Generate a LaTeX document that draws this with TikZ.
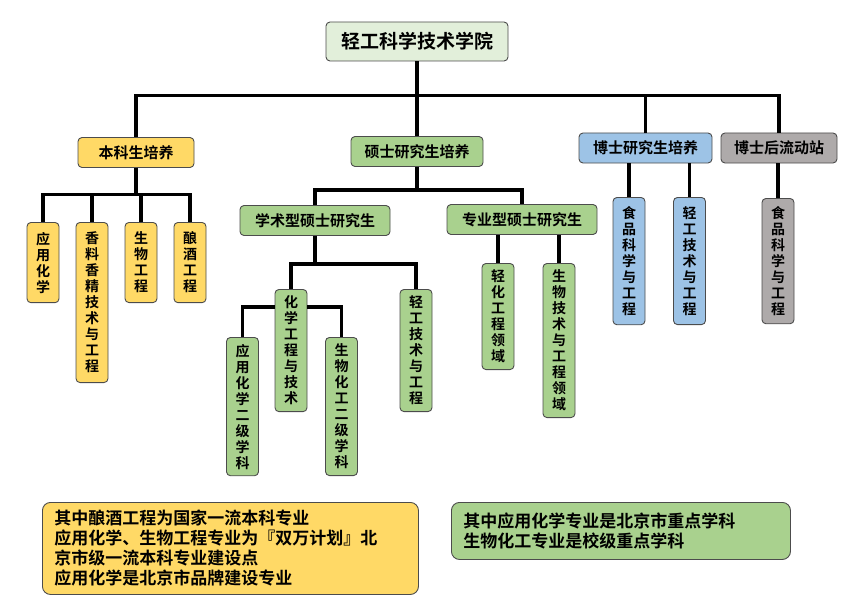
\documentclass[tikz,border=0pt]{standalone}
\usepackage{fontspec}
\setmainfont{Noto Sans CJK SC}[BoldFont={Noto Sans CJK SC Bold}]
\definecolor{topgreen}{HTML}{E2EFDA}
\definecolor{ugyellow}{HTML}{FFD966}
\definecolor{msgreen}{HTML}{A9D18E}
\definecolor{phdblue}{HTML}{9DC3E6}
\definecolor{postgray}{HTML}{AEAAAA}
\tikzset{
	box/.style={draw=black!70, line width=0.9pt, rounded corners=4pt, font=\bfseries},
	headbox/.style={box, fill=topgreen, font=\bfseries\fontsize{19}{22}\selectfont, minimum width=182pt, minimum height=39pt},
	midbox/.style={box, font=\bfseries\fontsize{15}{18}\selectfont, minimum height=30pt, inner xsep=12pt},
	leafbox/.style={box, anchor=north, font=\bfseries\fontsize{14}{16}\selectfont, align=center, minimum width=32pt, inner xsep=2pt, inner ysep=6.5pt},
	ugleaf/.style={leafbox, fill=ugyellow, inner ysep=9.5pt},
	msleaf/.style={leafbox, fill=msgreen},
	phdleaf/.style={leafbox, fill=phdblue, inner ysep=9pt},
	postleaf/.style={leafbox, fill=postgray, inner ysep=8pt},
	notebox/.style={box, anchor=north west, rounded corners=8pt, font=\bfseries\fontsize{17}{20}\selectfont, align=left, inner xsep=12pt},
	link/.style={line width=3.2pt}
}
\begin{document}
\begin{tikzpicture}[x=1pt,y=-1pt]
	\useasboundingbox (0,0) rectangle (862,607);
	\node[headbox] (top) at (417,41.5) {轻工科学技术学院};
	\node[midbox, fill=ugyellow, minimum width=116pt] (ug) at (136,152.5) {本科生培养};
	\node[midbox, fill=msgreen, minimum width=132pt] (ms) at (417,151.5) {硕士研究生培养};
	\node[midbox, fill=phdblue, minimum width=133pt] (phd) at (645.5,148) {博士研究生培养};
	\node[midbox, fill=postgray, minimum width=116pt] (post) at (779,148) {博士后流动站};
	\foreach \n in {ug,ms,phd,post}{
		\draw[link] (top.south) -- ++(0,34) -| (\n.north);
	}
	\foreach \n/\x/\txt in {u1/43/{应\\用\\化\\学}, u2/92/{香\\料\\香\\精\\技\\术\\与\\工\\程}, u3/141/{生\\物\\工\\程}, u4/190/{酿\\酒\\工\\程}}{
		\node[ugleaf] (\n) at (\x,222) {\txt};
		\draw[link] (ug.south) -- ++(0,26.5) -| (\n.north);
	}
	\node[midbox, fill=msgreen, minimum width=150pt] (acad) at (315,220.5) {学术型硕士研究生};
	\node[midbox, fill=msgreen, minimum width=150pt] (prof) at (522,219.5) {专业型硕士研究生};
	\draw[link] (ms.south) -- ++(0,23) -| (acad.north);
	\draw[link] (ms.south) -- ++(0,23) -| (prof.north);
	\node[msleaf] (cet) at (291,289) {化\\学\\工\\程\\与\\技\\术};
	\node[msleaf] (lte) at (416,289) {轻\\工\\技\\术\\与\\工\\程};
	\draw[link] (acad.south) -- ++(0,28) -| (cet.north);
	\draw[link] (acad.south) -- ++(0,28) -| (lte.north);
	\node[msleaf] (ac2) at (242.5,337) {应\\用\\化\\学\\二\\级\\学\\科};
	\node[msleaf] (bc2) at (341.5,337) {生\\物\\化\\工\\二\\级\\学\\科};
	\draw[link] (cet.north west) ++(0,18) -| (ac2.north);
	\draw[link] (cet.north east) ++(0,18) -| (bc2.north);
	\node[msleaf] (lce) at (498,263) {轻\\化\\工\\程\\领\\域};
	\node[msleaf] (bte) at (559,263) {生\\物\\技\\术\\与\\工\\程\\领\\域};
	\draw[link] (lce.north) -- (lce.north |- prof.south);
	\draw[link] (bte.north) -- (bte.north |- prof.south);
	\node[phdleaf] (fs1) at (629,197) {食\\品\\科\\学\\与\\工\\程};
	\node[phdleaf] (lt2) at (689.5,197) {轻\\工\\技\\术\\与\\工\\程};
	\draw[link] (fs1.north) -- (fs1.north |- phd.south);
	\draw[link] (lt2.north) -- (lt2.north |- phd.south);
	\node[postleaf] (fs2) at (778,198) {食\\品\\科\\学\\与\\工\\程};
	\draw[link] (fs2.north) -- (fs2.north |- post.south);
	\node[notebox, fill=ugyellow, text width=352pt, minimum height=92pt] (note1) at (42,502) {其中酿酒工程为国家一流本科专业\\应用化学、生物工程专业为『双万计划』北\\京市级一流本科专业建设点\\应用化学是北京市品牌建设专业};
	\node[notebox, fill=msgreen, text width=315pt, minimum height=57pt] (note2) at (451,502) {其中应用化学专业是北京市重点学科\\生物化工专业是校级重点学科};
\end{tikzpicture}
\end{document}
